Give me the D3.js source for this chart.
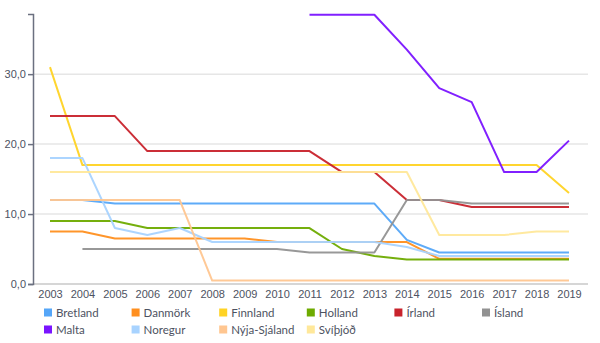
<!DOCTYPE html>
<html>
<head>
<meta charset="utf-8">
<script src="https://cdn.jsdelivr.net/npm/d3@7"></script>
<style>
  body { margin: 0; background: #fff; }
  svg { display: block; font-family: "Lato", "Open Sans", sans-serif; }
</style>
</head>
<body>
<svg id="chart" width="600" height="343"></svg>
<script>
"use strict";

const years = d3.range(2003, 2020);

const seriesNames = [
    "Bretland", "Danmörk", "Finnland", "Holland", "Írland",
    "Ísland", "Malta", "Noregur", "Nýja-Sjáland", "Svíþjóð"
];

const seriesColors = [
    "#55a6f8", "#ff8f1f", "#ffd324", "#6eab00", "#c8232c",
    "#929292", "#7a14ff", "#a8d3ff", "#ffc690", "#ffe89a"
];

// one value per year 2003..2019, null = no data
const bretland = [12, 12, 11.5, 11.5, 11.5, 11.5, 11.5, 11.5, 11.5, 11.5, 11.5, 6.3, 4.5, 4.5, 4.5, 4.5, 4.5];
const danmork = [7.5, 7.5, 6.5, 6.5, 6.5, 6.5, 6.5, 6, 6, 6, 6, 6, 3.6, 3.6, 3.6, 3.6, 3.6];
const finnland = [31, 17, 17, 17, 17, 17, 17, 17, 17, 17, 17, 17, 17, 17, 17, 17, 13];
const holland = [9, 9, 9, 8, 8, 8, 8, 8, 8, 5, 4, 3.5, 3.5, 3.5, 3.5, 3.5, 3.5];
const irland = [24, 24, 24, 19, 19, 19, 19, 19, 19, 16, 16, 12, 12, 11, 11, 11, 11];
const island = [null, 5, 5, 5, 5, 5, 5, 5, 4.5, 4.5, 4.5, 12, 12, 11.5, 11.5, 11.5, 11.5];
const malta = [null, null, null, null, null, null, null, null, 38.5, 38.5, 38.5, 33.5, 28, 26, 16, 16, 20.5];
const noregur = [18, 18, 8, 7, 8, 6, 6, 6, 6, 6, 6, 5.3, 4, 4, 4, 4, 4];
const nyjaSjaland = [12, 12, 12, 12, 12, 0.5, 0.5, 0.5, 0.5, 0.5, 0.5, 0.5, 0.5, 0.5, 0.5, 0.5, 0.5];
const svithjod = [16, 16, 16, 16, 16, 16, 16, 16, 16, 16, 16, 16, 7, 7, 7, 7.5, 7.5];

const seriesValues = [
    bretland, danmork, finnland, holland, irland,
    island, malta, noregur, nyjaSjaland, svithjod
];

const yTicks = [0, 10, 20, 30];

const width = 600;
const margin = { left: 33, right: 12, top: 14, bottom: 59 };
const plotBottom = 284;
const textColor = "#4d5261";

const svg = d3.select("#chart");

const locale = d3.formatLocale({ decimal: ",", thousands: ".", grouping: [3], currency: ["", " kr."] });
const fmt = locale.format(".1f");

const x = d3.scalePoint()
    .domain(years)
    .range([50, 569]);

const y = d3.scaleLinear()
    .domain([0, 38.6])
    .range([plotBottom, margin.top]);

// gridlines
svg.append("g")
    .selectAll("line")
    .data(yTicks.filter((d) => d > 0))
    .join("line")
    .attr("x1", margin.left)
    .attr("x2", width - margin.right)
    .attr("y1", (d) => y(d))
    .attr("y2", (d) => y(d))
    .attr("stroke", "#e6e6e6")
    .attr("stroke-width", 1.5);

// baseline
svg.append("line")
    .attr("x1", margin.left)
    .attr("x2", width - margin.right)
    .attr("y1", plotBottom)
    .attr("y2", plotBottom)
    .attr("stroke", "#c8c8c8")
    .attr("stroke-width", 1.5);

// y axis
const yAxis = svg.append("g")
    .attr("transform", `translate(${margin.left},0)`)
    .call(d3.axisLeft(y).tickValues(yTicks).tickFormat(fmt).tickSize(5).tickSizeOuter(5));
yAxis.select(".domain").attr("stroke", "#6b7080").attr("stroke-width", 1.5);
yAxis.selectAll(".tick line").attr("stroke", "#6b7080").attr("stroke-width", 1.5);
yAxis.selectAll(".tick text")
    .attr("fill", textColor)
    .attr("font-size", 11)
    .attr("x", -7);

// x axis labels
const xAxis = svg.append("g")
    .attr("transform", `translate(0,${plotBottom})`)
    .call(d3.axisBottom(x).tickSize(0));
xAxis.select(".domain").remove();
xAxis.selectAll(".tick text")
    .attr("fill", textColor)
    .attr("font-size", 11)
    .attr("dy", "0.71em")
    .attr("y", 6);

// lines
const line = d3.line()
    .defined((d) => d.v !== null)
    .x((d) => x(d.year))
    .y((d) => y(d.v));

svg.append("g")
    .selectAll("path")
    .data(seriesValues)
    .join("path")
    .attr("d", (vals) => line(vals.map((v, i) => ({ year: years[i], v }))))
    .attr("fill", "none")
    .attr("stroke", (d, i) => seriesColors[i])
    .attr("stroke-width", 2)
    .attr("stroke-linejoin", "round")
    .attr("stroke-opacity", 0.95);

// legend
const legend = svg.append("g")
    .selectAll("g")
    .data(seriesNames)
    .join("g")
    .attr("transform", (d, i) => `translate(${44 + (i % 6) * 87.6},${313 + Math.floor(i / 6) * 17})`);

legend.append("rect")
    .attr("x", 0)
    .attr("y", -4.5)
    .attr("width", 8)
    .attr("height", 8)
    .attr("fill", (d, i) => seriesColors[i]);

legend.append("text")
    .attr("x", 12)
    .attr("y", 0)
    .attr("dy", "0.35em")
    .attr("font-size", 11.5)
    .attr("fill", textColor)
    .text((d) => d);
</script>
</body>
</html>
